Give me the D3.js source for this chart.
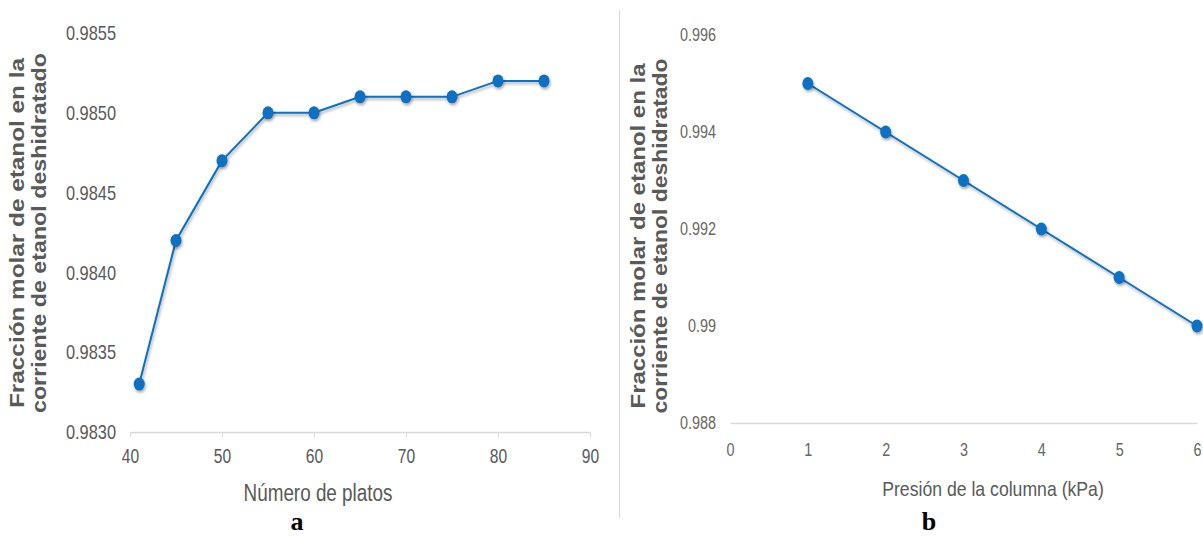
<!DOCTYPE html>
<html>
<head>
<meta charset="utf-8">
<script src="https://cdn.jsdelivr.net/npm/d3@7"></script>
<style>
  body { margin: 0; background: #fff; }
  svg { display: block; }
</style>
</head>
<body>
<div id="chart"></div>
<script>
// chart a: number of plates vs ethanol molar fraction
const platos = [41, 45, 50, 55, 60, 65, 70, 75, 80, 85];
const fraccionA = [0.9833, 0.9842, 0.9847, 0.9850, 0.9850, 0.9851, 0.9851, 0.9851, 0.9852, 0.9852];
const xTicksA = [40, 50, 60, 70, 80, 90];
const yTicksA = [0.9830, 0.9835, 0.9840, 0.9845, 0.9850, 0.9855];

// chart b: column pressure vs ethanol molar fraction
const presion = [1, 2, 3, 4, 5, 6];
const fraccionB = [0.995, 0.994, 0.993, 0.992, 0.991, 0.990];
const xTicksB = [0, 1, 2, 3, 4, 5, 6];
const yTicksB = [0.988, 0.990, 0.992, 0.994, 0.996];

const yTitle = ["Fracción molar de etanol en la", "corriente de etanol deshidratado"];

const width = 1203, height = 537;
const grey = "#595959";
const blue = "#0a6fc2";
const sans = "'Liberation Sans', Arial, sans-serif";

const svg = d3.select("#chart").append("svg")
    .attr("width", width)
    .attr("height", height);

// no narrow font installed, so squeeze the glyphs instead
function condense(sel, factor) {
    sel.each(function() {
        const len = this.getComputedTextLength();
        d3.select(this)
            .attr("textLength", len * factor)
            .attr("lengthAdjust", "spacingAndGlyphs");
    });
}

// soft shadow under the markers
const defs = svg.append("defs");
defs.append("filter")
    .attr("id", "shadow")
    .attr("x", "-50%").attr("y", "-50%")
    .attr("width", "200%").attr("height", "200%")
    .append("feDropShadow")
    .attr("dx", 1).attr("dy", 2)
    .attr("stdDeviation", 1.5)
    .attr("flood-color", "#000")
    .attr("flood-opacity", 0.35);

// divider between the two panels
svg.append("line")
    .attr("x1", 619.5).attr("x2", 619.5)
    .attr("y1", 10).attr("y2", 518)
    .attr("stroke", "#d9d9d9")
    .attr("stroke-width", 1);

function drawPanel(opts) {
    const g = svg.append("g");

    const x = d3.scaleLinear().domain(opts.xDomain).range(opts.xRange);
    const y = d3.scaleLinear().domain(opts.yDomain).range(opts.yRange);

    // x axis
    const xAxis = g.append("g")
        .attr("transform", `translate(0,${opts.yRange[0]})`)
        .call(d3.axisBottom(x)
            .tickValues(opts.xTicks)
            .tickSize(opts.xTickSize)
            .tickSizeOuter(0)
            .tickPadding(opts.xTickPad)
            .tickFormat(d3.format("d")));
    xAxis.select(".domain").attr("stroke", "#d9d9d9").attr("stroke-width", 1.5);
    xAxis.selectAll(".tick line").attr("stroke", "#d9d9d9");
    xAxis.selectAll(".tick text")
        .attr("fill", opts.tickColor)
        .style("font-family", sans)
        .style("font-size", opts.xTickFont + "px")
        .call(condense, opts.squeeze);

    // y axis (labels only)
    const yAxis = g.append("g")
        .attr("transform", `translate(${opts.xRange[0]},0)`)
        .call(d3.axisLeft(y)
            .tickValues(opts.yTicks)
            .tickSize(0)
            .tickPadding(14)
            .tickFormat(opts.yFormat));
    yAxis.select(".domain").remove();
    yAxis.selectAll(".tick text")
        .attr("fill", opts.tickColor)
        .style("font-family", sans)
        .style("font-size", opts.yTickFont + "px")
        .call(condense, opts.squeeze);

    // line
    const line = d3.line()
        .x(d => x(d[0]))
        .y(d => y(d[1]));
    const pts = opts.xs.map((v, i) => [v, opts.ys[i]]);

    g.append("path")
        .datum(pts)
        .attr("d", line)
        .attr("fill", "none")
        .attr("stroke", blue)
        .attr("stroke-width", 2)
        .attr("filter", "url(#shadow)");

    g.selectAll("ellipse")
        .data(pts)
        .enter().append("ellipse")
        .attr("cx", d => x(d[0]))
        .attr("cy", d => y(d[1]))
        .attr("rx", 5.5)
        .attr("ry", 6.5)
        .attr("fill", blue)
        .attr("filter", "url(#shadow)");

    // y axis title, two lines
    const yt = g.append("text")
        .attr("transform", `translate(${opts.yTitleX},${opts.yTitleY}) rotate(-90)`)
        .attr("text-anchor", "middle")
        .attr("fill", grey)
        .style("font-family", sans)
        .style("font-weight", "bold")
        .style("font-size", "20px");
    yt.selectAll("tspan")
        .data(yTitle)
        .enter().append("tspan")
        .attr("x", 0)
        .attr("dy", (d, i) => i === 0 ? 0 : 22)
        .attr("textLength", (d, i) => opts.yTitleLen[i])
        .attr("lengthAdjust", "spacingAndGlyphs")
        .text(d => d);

    // x axis title
    g.append("text")
        .attr("x", opts.xTitleX)
        .attr("y", opts.xTitleY)
        .attr("text-anchor", "middle")
        .attr("fill", grey)
        .style("font-family", sans)
        .style("font-size", opts.xTitleFont + "px")
        .text(opts.xTitle)
        .call(condense, opts.titleSqueeze);

    // panel letter
    g.append("text")
        .attr("x", opts.letterX)
        .attr("y", opts.letterY)
        .attr("text-anchor", "middle")
        .attr("fill", "#000")
        .style("font-family", "'Liberation Serif', 'Times New Roman', serif")
        .style("font-weight", "bold")
        .style("font-size", "26px")
        .text(opts.letter);
}

drawPanel({
    xs: platos, ys: fraccionA,
    xDomain: [40, 90], xRange: [130, 590],
    yDomain: [0.9830, 0.9855], yRange: [432, 33],
    xTicks: xTicksA, yTicks: yTicksA,
    xTickSize: 5, xTickPad: 12, xTickFont: 20, yTickFont: 21,
    tickColor: grey, squeeze: 0.78,
    yFormat: d3.format(".4f"),
    yTitleX: 24, yTitleY: 233, yTitleLen: [350, 360],
    xTitle: "Número de platos", xTitleX: 318, xTitleY: 501, xTitleFont: 23, titleSqueeze: 0.82,
    letter: "a", letterX: 297, letterY: 530
});

drawPanel({
    xs: presion, ys: fraccionB,
    xDomain: [0, 6], xRange: [730, 1197],
    yDomain: [0.988, 0.996], yRange: [423, 35],
    xTicks: xTicksB, yTicks: yTicksB,
    xTickSize: 0, xTickPad: 20, xTickFont: 18, yTickFont: 18,
    tickColor: "#666", squeeze: 0.8,
    yFormat: d => String(+d.toFixed(3)),
    yTitleX: 645, yTitleY: 236, yTitleLen: [345, 355],
    xTitle: "Presión de la columna (kPa)", xTitleX: 993, xTitleY: 496, xTitleFont: 21, titleSqueeze: 0.84,
    letter: "b", letterX: 929, letterY: 530
});
</script>
</body>
</html>
